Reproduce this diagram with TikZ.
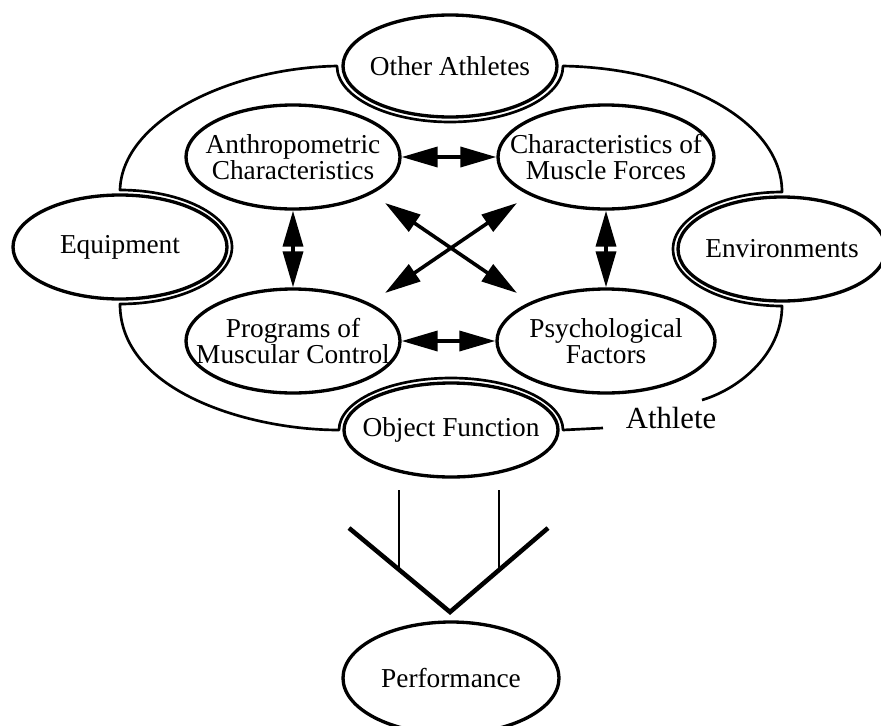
\documentclass[tikz,border=0pt]{standalone}
\usepackage{fontspec}
\setmainfont{Liberation Serif}
\usetikzlibrary{shapes.geometric,arrows.meta}
\begin{document}
\begin{tikzpicture}[x=0.75pt, y=-0.75pt,
  ell/.style 2 args={ellipse, draw, line width=2.5pt,
    minimum width={1.5pt*#1}, minimum height={1.5pt*#2},
    inner xsep=-40pt, inner ysep=-20pt, align=center,
    font=\fontsize{20.5}{19.5}\selectfont},
  rim/.style={line width=2pt, line join=round},
  dbl/.style={line width=2.7pt,
    {Triangle[length=27pt,width=15pt]}-{Triangle[length=27pt,width=15pt]}},
  stem/.style={line width=2.2pt},
  vee/.style={line width=3.4pt, line join=miter}]
\clip (0,0) rectangle (881,725);

% outer factors sitting on the athlete boundary
\node[ell={107}{51}] (oth)  at (450,66)  {Other Athletes};
\node[ell={107}{52}] (equ)  at (120,247) {Equipment};
\node[ell={104}{52}] (env)  at (782,249) {Environments};
\node[ell={107}{47}] (obj)  at (451,430) {Object Function};
\node[ell={108}{56}] (perf) at (451,678) {Performance};

% inner factors
\node[ell={107}{52}] (anth) at (293,157) {Anthropometric\\Characteristics};
\node[ell={108}{52}] (musc) at (606,157) {Characteristics of\\Muscle Forces};
\node[ell={107}{52}] (prog) at (293,341) {Programs of\\Muscular Control};
\node[ell={109}{52}] (psy)  at (606,341) {Psychological\\Factors};

% athlete boundary, wrapping inside round each outer factor
\draw[rim] (603,428) -- (563,430)
  arc[start angle=0, end angle=-180, x radius=112, y radius=52]
  .. controls (250,430) and (120,392) .. (120,304)
  arc[start angle=90, end angle=-90, x radius=112, y radius=57]
  .. controls (122,120) and (230,68) .. (337,66)
  arc[start angle=180, end angle=0, x radius=113, y radius=56]
  .. controls (680,68) and (782,120) .. (782,192)
  arc[start angle=270, end angle=90, x radius=109, y radius=57]
  .. controls (782,352) and (742,388) .. (702,400);
\node[font=\fontsize{23}{23}\selectfont, anchor=base] (athl) at (671,428) {Athlete};

% interactions between the inner factors
\draw[dbl] (anth) -- (musc);
\draw[dbl] (prog) -- (psy);
\draw[dbl] (anth) -- (prog);
\draw[dbl] (musc) -- (psy);
\coordinate (d1) at (385,203);
\coordinate (d2) at (517,293);
\coordinate (d3) at (517,203);
\coordinate (d4) at (385,293);
\draw[dbl] (d1) -- (d2);
\draw[dbl] (d3) -- (d4);

% open arrow leading to performance
\coordinate (s1) at (399,490);
\coordinate (s2) at (399,570);
\coordinate (s3) at (499,490);
\coordinate (s4) at (499,570);
\draw[stem] (s1) -- (s2);
\draw[stem] (s3) -- (s4);
\coordinate (v1) at (349,528);
\coordinate (v2) at (450,612);
\coordinate (v3) at (548,528);
\draw[vee] (v1) -- (v2) -- (v3);
\end{tikzpicture}
\end{document}
